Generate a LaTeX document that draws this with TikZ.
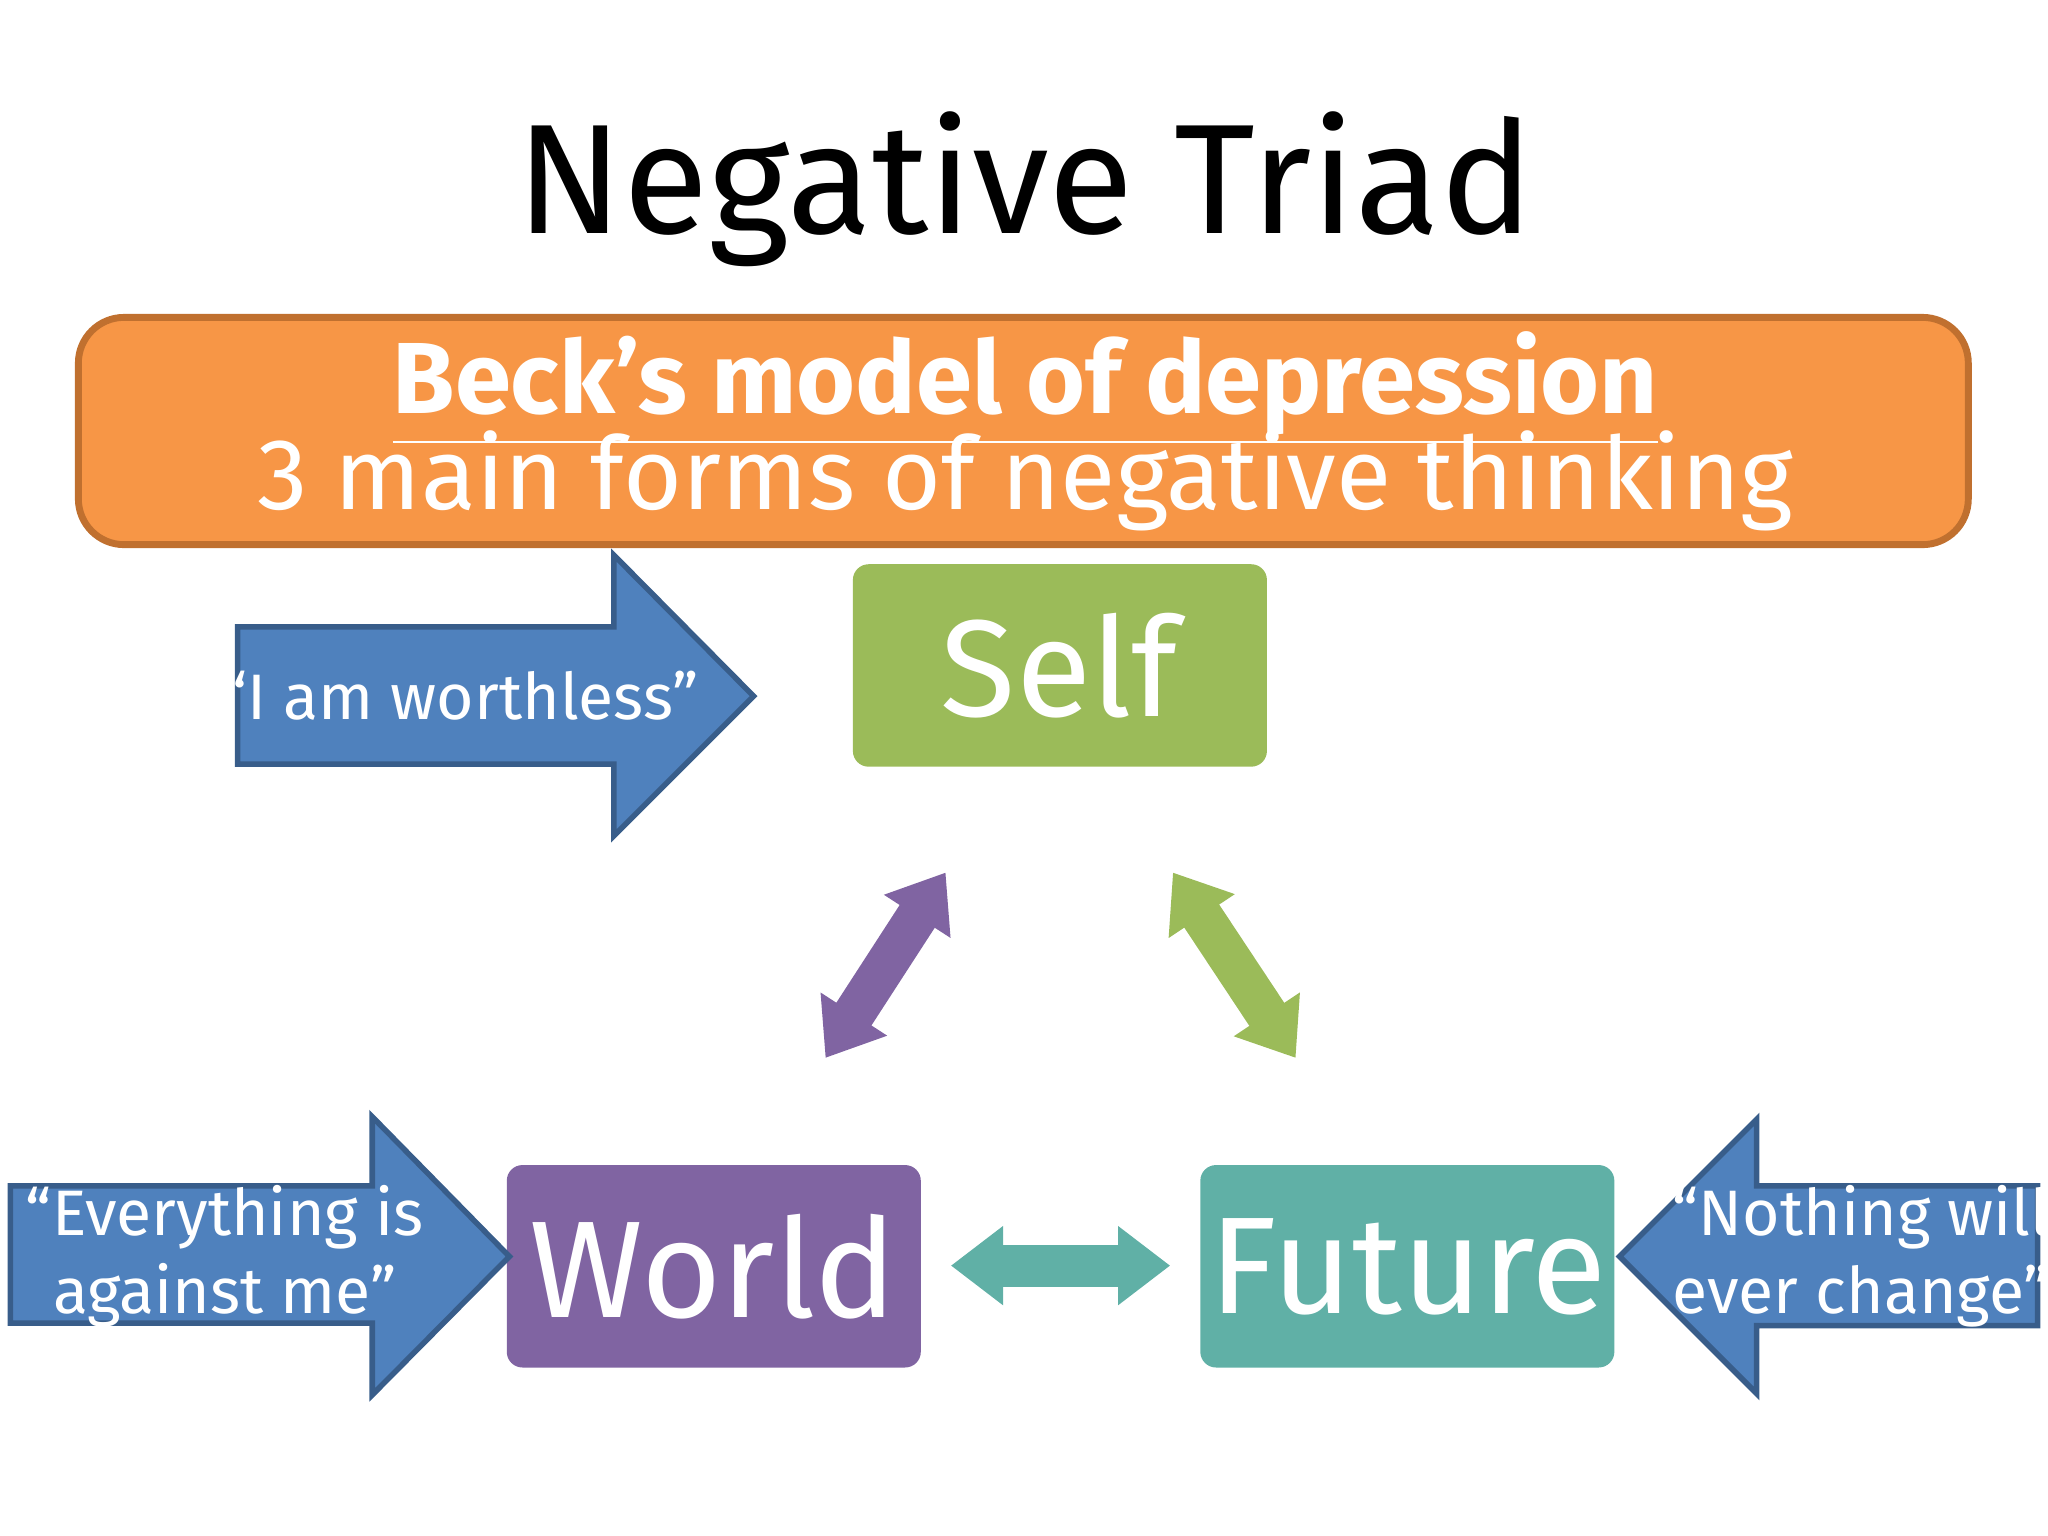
\documentclass[tikz,border=0pt]{standalone}
\usepackage{fontspec}
\setmainfont{Fira Sans}
\usetikzlibrary{arrows.meta}
\definecolor{beckorange}{HTML}{F79646}
\definecolor{beckedge}{HTML}{C0702F}
\definecolor{selfgreen}{HTML}{9BBB59}
\definecolor{worldpurple}{HTML}{8064A2}
\definecolor{futureteal}{HTML}{60B0A6}
\definecolor{quoteblue}{HTML}{4F81BD}
\definecolor{quoteedge}{HTML}{385D8A}
\tikzset{
  box/.style={rounded corners=0.12cm, text=white, font=\fontsize{30}{36}\selectfont},
  quote/.style={fill=quoteblue, draw=quoteedge, line width=1.2pt},
  quotetext/.style={text=white, align=center, font=\fontsize{14}{17}\selectfont},
  link/.style={line width=0.32cm, {Triangle[length=0.4cm,width=0.58cm]}-{Triangle[length=0.4cm,width=0.58cm]}}
}
\begin{document}
\begin{tikzpicture}[x=0.01cm,y=-0.01cm]
    \useasboundingbox (0,0) rectangle (1568,1176);

    % Title
    \node[font=\fontsize{34}{40}\selectfont] (title) at (785,145) {Negative Triad};

    % Banner
    \draw[fill=beckorange, draw=beckedge, line width=1.5pt, rounded corners=0.35cm] (60,243) rectangle (1507,417);
    \node[text=white, font=\bfseries\fontsize{22}{26}\selectfont] (beck) at (785,297) {\underline{Beck’s model of depression}};
    \node[text=white, font=\fontsize{22}{26}\selectfont] (forms) at (785,368) {3 main forms of negative thinking};

    % Triad boxes
    \fill[selfgreen, rounded corners=0.12cm] (653,432) rectangle (970,587);
    \fill[worldpurple, rounded corners=0.12cm] (388,892) rectangle (705,1047);
    \fill[futureteal, rounded corners=0.12cm] (919,892) rectangle (1236,1047);
    \node[box] (self) at (811,510) {Self};
    \node[box] (world) at (546,970) {World};
    \node[box] (future) at (1078,970) {Future};

    % Links between the boxes
    \coordinate (sw1) at (724,668);
    \coordinate (sw2) at (632,810);
    \coordinate (sf1) at (898,668);
    \coordinate (sf2) at (992,810);
    \coordinate (wf1) at (728,969);
    \coordinate (wf2) at (896,969);
    \draw[link, worldpurple] (sw1) -- (sw2);
    \draw[link, selfgreen] (sf1) -- (sf2);
    \draw[link, futureteal] (wf1) -- (wf2);

    % Thought arrows
    \draw[quote] (182,480) -- (470,480) -- (470,425) -- (577,533) -- (470,640) -- (470,585) -- (182,585) -- cycle;
    \node[quotetext] (worthless) at (352,533) {“I am worthless”};
    \draw[quote] (8,908) -- (285,908) -- (285,855) -- (390,962) -- (285,1068) -- (285,1013) -- (8,1013) -- cycle;
    \node[quotetext] (against) at (172,962) {“Everything is\\ against me”};
    \draw[quote] (1560,908) -- (1345,908) -- (1345,857) -- (1240,962) -- (1345,1067) -- (1345,1015) -- (1560,1015) -- cycle;
    \node[quotetext] (nothing) at (1425,962) {“Nothing will\\ ever change”};
\end{tikzpicture}
\end{document}
